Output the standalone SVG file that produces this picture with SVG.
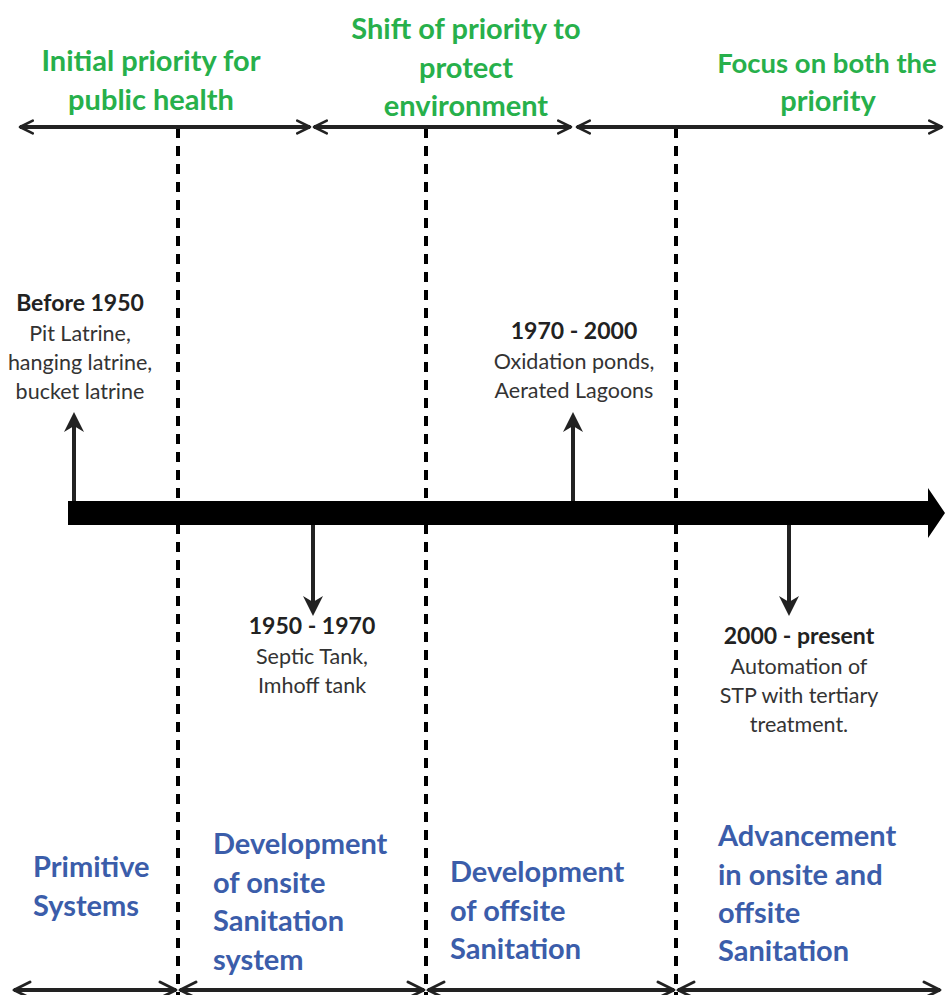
<svg xmlns="http://www.w3.org/2000/svg" width="945" height="995" viewBox="0 0 945 995">
<style>
.g{font-family:Lato,"Open Sans",sans-serif;font-weight:bold;font-size:29px;fill:#27b04b;text-anchor:middle}
.b{font-family:Lato,"Open Sans",sans-serif;font-weight:bold;font-size:29px;fill:#3b5daa}
.h{font-family:Lato,"Open Sans",sans-serif;font-weight:bold;font-size:23px;fill:#222;text-anchor:middle}
.t{font-family:Lato,"Open Sans",sans-serif;font-size:21.5px;fill:#333;text-anchor:middle}
.ln{stroke:#222;stroke-width:4;fill:none}
.dash{stroke:#000;stroke-width:4;stroke-dasharray:10 8;fill:none}
</style>
<defs>
<marker id="ah" viewBox="0 0 10 10" refX="9" refY="5" markerWidth="4" markerHeight="4" orient="auto-start-reverse" markerUnits="strokeWidth">
<path d="M1,1 L9,5 L1,9" fill="none" stroke="#222" stroke-width="1.6" stroke-linecap="round" stroke-linejoin="round"/>
</marker>
<marker id="ahs" viewBox="0 0 10 10" refX="9" refY="5" markerWidth="5" markerHeight="5" orient="auto-start-reverse" markerUnits="strokeWidth">
<path d="M1,1 L9,5 L1,9" fill="none" stroke="#222" stroke-width="1.4" stroke-linecap="round" stroke-linejoin="round"/>
</marker>
<marker id="tri" viewBox="0 0 10 10" refX="8" refY="5" markerWidth="5" markerHeight="5" orient="auto" markerUnits="strokeWidth">
<path d="M0,0 L10,5 L0,10 L3,5 Z" fill="#222"/>
</marker>
</defs>
<rect width="945" height="995" fill="#fff"/>

<g id="dashed-lines">
<line class="dash" x1="178" y1="128" x2="178" y2="995"/>
<line class="dash" x1="426" y1="128" x2="426" y2="995"/>
<line class="dash" x1="676" y1="128" x2="676" y2="995"/>
</g>

<g id="connectors">
<line class="ln" x1="20" y1="127" x2="310" y2="127" marker-start="url(#ah)" marker-end="url(#ah)"/>
<line class="ln" x1="314" y1="127" x2="571" y2="127" marker-start="url(#ah)" marker-end="url(#ah)"/>
<line class="ln" x1="577" y1="127" x2="942" y2="127" marker-start="url(#ah)" marker-end="url(#ah)"/>
<line class="ln" x1="14" y1="990" x2="176" y2="990" stroke-width="2.5" marker-start="url(#ahs)" marker-end="url(#ahs)"/>
<line class="ln" x1="180" y1="990" x2="424" y2="990" stroke-width="2.5" marker-start="url(#ahs)" marker-end="url(#ahs)"/>
<line class="ln" x1="428" y1="990" x2="674" y2="990" stroke-width="2.5" marker-start="url(#ahs)" marker-end="url(#ahs)"/>
<line class="ln" x1="678" y1="990" x2="940" y2="990" stroke-width="2.5" marker-start="url(#ahs)" marker-end="url(#ahs)"/>
<line class="ln" x1="74" y1="502" x2="74" y2="416" stroke-width="3" marker-end="url(#tri)"/>
<line class="ln" x1="573" y1="502" x2="573" y2="416" stroke-width="3" marker-end="url(#tri)"/>
<line class="ln" x1="313" y1="524" x2="313" y2="612" stroke-width="3" marker-end="url(#tri)"/>
<line class="ln" x1="789" y1="524" x2="789" y2="612" stroke-width="3" marker-end="url(#tri)"/>
</g>

<g id="timeline">
<path d="M68,501 H928 V488 L945,513 L928,538 V525 H68 Z" fill="#000"/>
</g>

<g id="header-1">
<text class="g" x="151" y="71">Initial priority for</text>
<text class="g" x="151" y="110">public health</text>
</g>
<g id="header-2">
<text class="g" x="466" y="39">Shift of priority to</text>
<text class="g" x="466" y="78">protect</text>
<text class="g" x="466" y="116">environment</text>
</g>
<g id="header-3">
<text class="g" x="827" y="73" style="font-size:27.5px">Focus on both the</text>
<text class="g" x="828" y="111">priority</text>
</g>

<g id="event-before-1950">
<text class="h" x="80" y="311">Before 1950</text>
<text class="t" x="80" y="341">Pit Latrine,</text>
<text class="t" x="80" y="370">hanging latrine,</text>
<text class="t" x="80" y="399">bucket latrine</text>
</g>
<g id="event-1970-2000">
<text class="h" x="574" y="339">1970 - 2000</text>
<text class="t" x="574" y="369">Oxidation ponds,</text>
<text class="t" x="574" y="398">Aerated Lagoons</text>
</g>
<g id="event-1950-1970">
<text class="h" x="312" y="634">1950 - 1970</text>
<text class="t" x="312" y="664">Septic Tank,</text>
<text class="t" x="312" y="693">Imhoff tank</text>
</g>
<g id="event-2000-present">
<text class="h" x="799" y="644">2000 - present</text>
<text class="t" x="799" y="674">Automation of</text>
<text class="t" x="799" y="703">STP with tertiary</text>
<text class="t" x="799" y="732">treatment.</text>
</g>

<g id="phase-1">
<text class="b" x="33" y="877">Primitive</text>
<text class="b" x="33" y="916">Systems</text>
</g>
<g id="phase-2">
<text class="b" x="213" y="854">Development</text>
<text class="b" x="213" y="893">of onsite</text>
<text class="b" x="213" y="931">Sanitation</text>
<text class="b" x="213" y="970">system</text>
</g>
<g id="phase-3">
<text class="b" x="450" y="882">Development</text>
<text class="b" x="450" y="921">of offsite</text>
<text class="b" x="450" y="959">Sanitation</text>
</g>
<g id="phase-4">
<text class="b" x="718" y="846">Advancement</text>
<text class="b" x="718" y="885">in onsite and</text>
<text class="b" x="718" y="923">offsite</text>
<text class="b" x="718" y="961">Sanitation</text>
</g>
</svg>
